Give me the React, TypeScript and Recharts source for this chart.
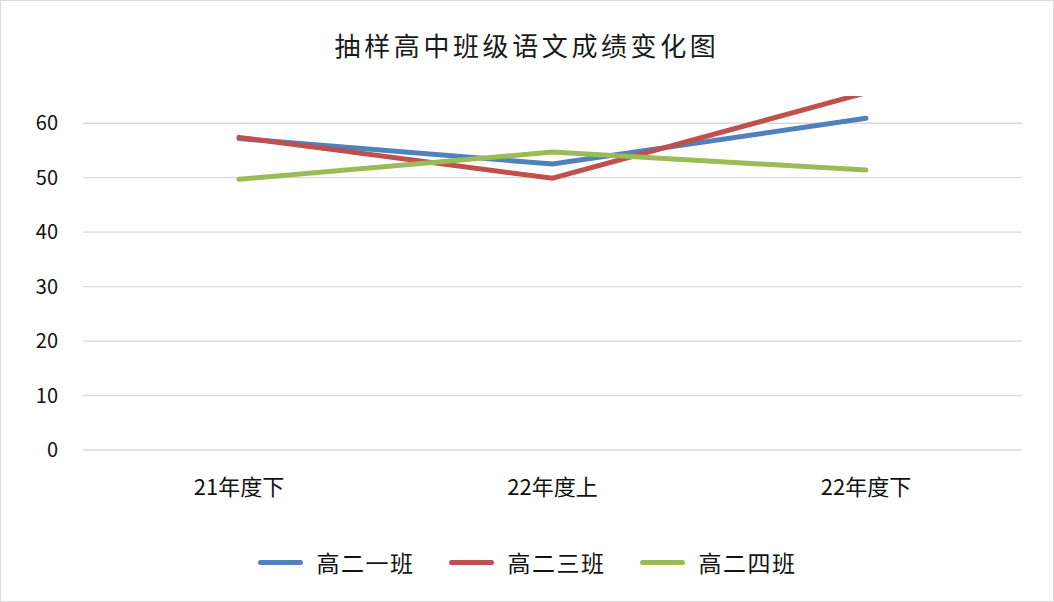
import { LineChart, Line, XAxis, YAxis, CartesianGrid } from "recharts"

const categories = ["21年度下", "22年度上", "22年度下"]
const classOne = [57.2, 52.5, 60.9]
const classThree = [57.4, 49.9, 65.6]
const classFour = [49.7, 54.7, 51.4]
const yTicks = [0, 10, 20, 30, 40, 50, 60]

const series = [
  { key: "one", name: "高二一班", color: "#4F81BD" },
  { key: "three", name: "高二三班", color: "#C0504D" },
  { key: "four", name: "高二四班", color: "#9BBB59" },
]

const chartData = categories.map((cat, i) => ({
  cat,
  one: classOne[i],
  three: classThree[i],
  four: classFour[i],
}))

const font = "'Noto Sans CJK SC', 'Noto Sans', sans-serif"

export default function App() {
  return (
    <div
      style={{
        position: "absolute",
        left: 0,
        top: 0,
        width: 1054,
        height: 602,
        boxSizing: "border-box",
        border: "1px solid #d9d9d9",
        background: "#fff",
        fontFamily: font,
      }}
    >
      <div
        style={{
          position: "absolute",
          top: 24,
          left: 0,
          width: "100%",
          textAlign: "center",
          fontSize: 26,
          letterSpacing: 3.6,
          color: "#1a1a1a",
          lineHeight: "40px",
        }}
      >
        抽样高中班级语文成绩变化图
      </div>
      <div style={{ position: "absolute", left: -1, top: -1 }}>
        <LineChart
          width={1054}
          height={602}
          data={chartData}
          margin={{ top: 96, right: 32, bottom: 92, left: 23 }}
        >
          <CartesianGrid
            vertical={false}
            horizontalValues={yTicks}
            stroke="#d9d9d9"
            strokeWidth={1.3}
          />
          <XAxis
            dataKey="cat"
            height={60}
            axisLine={false}
            tickLine={false}
            tickSize={0}
            tickMargin={29}
            padding={{ left: 156, right: 156 }}
            tick={{ fill: "#111", fontSize: 22, fontFamily: font }}
          />
          <YAxis
            width={60}
            domain={[0, 65]}
            ticks={yTicks}
            allowDataOverflow
            axisLine={false}
            tickLine={false}
            tickSize={0}
            tickMargin={25}
            tick={{ fill: "#111", fontSize: 20, fontFamily: font }}
          />
          {series.map((s) => (
            <Line
              key={s.key}
              dataKey={s.key}
              name={s.name}
              stroke={s.color}
              strokeWidth={5}
              strokeLinecap="round"
              dot={false}
              activeDot={false}
              isAnimationActive={false}
            />
          ))}
        </LineChart>
      </div>
      <div
        style={{
          position: "absolute",
          top: 544,
          left: 0,
          width: "100%",
          display: "flex",
          justifyContent: "center",
          gap: 34,
          fontSize: 23,
          color: "#111",
        }}
      >
        {series.map((s) => (
          <div key={s.key} style={{ display: "flex", alignItems: "center" }}>
            <span
              style={{
                display: "inline-block",
                width: 45,
                height: 5,
                borderRadius: 3,
                background: s.color,
                marginRight: 14,
              }}
            />
            <span style={{ letterSpacing: 1.5 }}>{s.name}</span>
          </div>
        ))}
      </div>
    </div>
  )
}
